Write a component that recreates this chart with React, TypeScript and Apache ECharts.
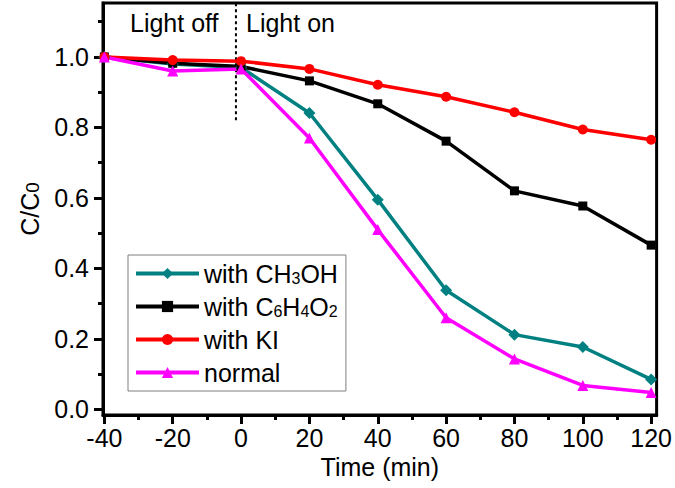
import React, { useEffect, useRef } from 'react';
import * as echarts from 'echarts';

const times = [-40, -20, 0, 20, 40, 60, 80, 100, 120];
const ch3oh = [1.0, 0.98, 0.97, 0.841, 0.595, 0.338, 0.212, 0.177, 0.085];
const c6h4o2 = [1.0, 0.982, 0.973, 0.932, 0.867, 0.761, 0.62, 0.577, 0.466];
const ki = [1.0, 0.991, 0.988, 0.966, 0.921, 0.887, 0.843, 0.794, 0.765];
const normal = [1.0, 0.96, 0.966, 0.77, 0.51, 0.26, 0.143, 0.068, 0.048];

const xMajor = [-40, -20, 0, 20, 40, 60, 80, 100, 120];
const xMinor = [-30, -10, 10, 30, 50, 70, 90, 110];
const yMajor = [0, 0.2, 0.4, 0.6, 0.8, 1.0];
const yMinor = [0.1, 0.3, 0.5, 0.7, 0.9, 1.1];

const lightSwitchTime = -1.5;
const lightLineRange = [0.82, 1.16];

const seriesNames = ['with CH3OH', 'with C6H4O2', 'with KI', 'normal'];
const seriesRich: Record<string, string> = {
  'with CH3OH': 'with CH{s|3}OH',
  'with C6H4O2': 'with C{s|6}H{s|4}O{s|2}',
  'with KI': 'with KI',
  normal: 'normal',
};

const FONT = "'Liberation Sans', Arial, Helvetica, sans-serif";
const FS = 25;
const X_MIN = -40.4;
const X_MAX = 121.6;
const Y_MIN = -0.016;
const Y_MAX = 1.153;

const pairs = (ys: number[]) => times.map((t, i) => [t, ys[i]]);

export default function App() {
  const ref = useRef<HTMLDivElement>(null);
  useEffect(() => {
    if (!ref.current) return;
    const chart = echarts.init(ref.current, null, { renderer: 'svg' });
    const tickStyle = { color: '#000', width: 3 };
    const line = (name: string, data: number[], color: string, symbol: string, size: number) => ({
      name,
      type: 'line',
      data: pairs(data),
      symbol,
      symbolSize: size,
      showSymbol: true,
      lineStyle: { color, width: 3.5 },
      itemStyle: { color },
      xAxisIndex: 0,
      yAxisIndex: 0,
    });
    const tickAxis = (min: number, max: number, pos: string, values: number[], len: number) => ({
      type: 'value',
      min,
      max,
      position: pos,
      axisLine: { show: false, onZero: false },
      axisTick: { show: true, customValues: values, length: len, lineStyle: tickStyle },
      axisLabel: { show: false },
      splitLine: { show: false },
    });
    chart.setOption({
      animation: false,
      backgroundColor: '#fff',
      grid: {
        left: 103,
        right: 18,
        top: 3,
        bottom: 73,
        show: true,
        borderColor: '#000',
        borderWidth: 3,
        backgroundColor: 'transparent',
      },
      legend: {
        orient: 'vertical',
        left: 128,
        top: 255,
        data: seriesNames,
        itemWidth: 63,
        itemHeight: 14,
        itemGap: 8,
        padding: [6, 8, 6, 6],
        borderColor: '#7f7f7f',
        borderWidth: 1,
        backgroundColor: '#fff',
        lineStyle: { width: 4 },
        formatter: (n: string) => seriesRich[n] || n,
        textStyle: {
          fontSize: FS,
          fontFamily: FONT,
          color: '#000',
          rich: {
            s: { fontSize: 16, fontFamily: FONT, color: '#000', verticalAlign: 'bottom' },
          },
        },
      },
      xAxis: [
        {
          type: 'value',
          min: X_MIN,
          max: X_MAX,
          position: 'bottom',
          axisLine: { show: true, onZero: false, lineStyle: { color: '#000', width: 3 } },
          axisTick: { show: false },
          axisLabel: {
            customValues: xMajor,
            fontSize: FS,
            fontFamily: FONT,
            color: '#000',
            margin: 10,
            formatter: (v: number) => String(Math.round(v)),
          },
          splitLine: { show: false },
          name: 'Time (min)',
          nameLocation: 'middle',
          nameGap: 37,
          nameTextStyle: { fontSize: FS, fontFamily: FONT, color: '#000' },
        },
        tickAxis(X_MIN, X_MAX, 'bottom', xMajor, 9),
        tickAxis(X_MIN, X_MAX, 'bottom', xMinor, 5),
      ],
      yAxis: [
        {
          type: 'value',
          min: Y_MIN,
          max: Y_MAX,
          position: 'left',
          axisLine: { show: true, onZero: false, lineStyle: { color: '#000', width: 3 } },
          axisTick: { show: false },
          axisLabel: {
            customValues: yMajor,
            fontSize: FS,
            fontFamily: FONT,
            color: '#000',
            margin: 14,
            formatter: (v: number) => v.toFixed(1),
          },
          splitLine: { show: false },
          name: 'C/C{s|0}',
          nameLocation: 'middle',
          nameGap: 61,
          nameTextStyle: {
            fontSize: FS,
            fontFamily: FONT,
            color: '#000',
            rich: { s: { fontSize: 19, fontFamily: FONT, color: '#000', verticalAlign: 'bottom' } },
          },
        },
        tickAxis(Y_MIN, Y_MAX, 'left', yMajor, 9),
        tickAxis(Y_MIN, Y_MAX, 'left', yMinor, 5),
      ],
      graphic: [
        { type: 'text', left: 130, top: 10, style: { text: 'Light off', fontSize: FS, fontFamily: FONT, fill: '#000' } },
        { type: 'text', left: 246, top: 10, style: { text: 'Light on', fontSize: FS, fontFamily: FONT, fill: '#000' } },
      ],
      series: [
        {
          name: 'switch',
          type: 'line',
          data: lightLineRange.map((y) => [lightSwitchTime, y]),
          symbol: 'none',
          silent: true,
          lineStyle: { color: '#000', width: 2, type: [3, 3] },
          z: 1,
        },
        line('with CH3OH', ch3oh, '#008080', 'diamond', 12),
        line('with C6H4O2', c6h4o2, '#000000', 'rect', 9),
        line('with KI', ki, '#ff0000', 'circle', 10),
        line('normal', normal, '#ff00ff', 'triangle', 11),
      ],
    });
    return () => chart.dispose();
  }, []);
  return <div ref={ref} style={{ position: 'fixed', left: 0, top: 0, width: 675, height: 488 }} />;
}
